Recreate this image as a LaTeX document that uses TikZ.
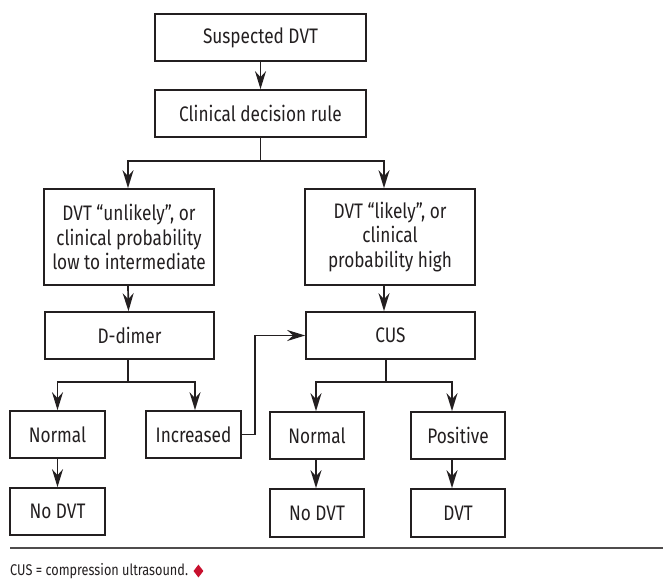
\documentclass[tikz,border=0pt]{standalone}
\usepackage{fontspec}
\setmainfont{Fira Sans}
\newfontfamily\narrow[FakeStretch=0.82]{Fira Sans}
\usetikzlibrary{arrows.meta,positioning,shapes.geometric}
\definecolor{ink}{RGB}{35,31,32}
\definecolor{dred}{RGB}{200,16,46}
\begin{document}
\begin{tikzpicture}[x=1pt,y=-1pt,
        box/.style={draw=ink,line width=1.7pt,text=ink,align=center,inner sep=2pt,
            minimum height=47pt,font=\narrow\fontsize{21}{24.5}\selectfont},
        arr/.style={draw=ink,line width=1.7pt,-{Stealth[length=18pt,width=11pt,inset=6pt]}},
        wire/.style={draw=ink,line width=1.7pt}]
    \useasboundingbox (0,0) rectangle (663,588);
    \node[box,minimum width=211pt] (susp) at (260.5,37.5) {Suspected DVT};
    \node[box,minimum width=211pt] (rule) at (260.5,113.5) {Clinical decision rule};
    \node[box,minimum width=170pt,minimum height=96pt] (unlik) at (129,237)
        {DVT “unlikely”, or\\clinical probability\\low to intermediate};
    \node[box,minimum width=170pt,minimum height=96pt] (lik) at (390,237)
        {DVT “likely”, or\\clinical\\probability high};
    \node[box,minimum width=169pt] (ddim) at (129.5,335.5) {D-dimer};
    \node[box,minimum width=169pt] (cus) at (390.5,335.5) {CUS};
    \node[box,minimum width=95pt] (norm1) at (57.5,434.5) {Normal};
    \node[box,minimum width=95pt] (incr) at (193.5,434.5) {Increased};
    \node[box,minimum width=95pt] (nodvt1) at (57.5,511.5) {No DVT};
    \node[box,minimum width=94pt] (norm2) at (317,435.5) {Normal};
    \node[box,minimum width=94pt] (pos) at (458,435.5) {Positive};
    \node[box,minimum width=94pt,minimum height=48pt] (nodvt2) at (317,513) {No DVT};
    \node[box,minimum width=94pt,minimum height=48pt] (dvt) at (458,513) {DVT};

    \draw[arr] (susp) -- (rule);
    \draw[wire] (rule.south) -- ++(0,23) coordinate (fork1);
    \draw[arr] (fork1) -| ([xshift=-1pt]unlik.north);
    \draw[arr] (fork1) -| ([xshift=-6pt]lik.north);
    \draw[arr] ([xshift=-1pt]unlik.south) -- ([xshift=-1pt]ddim.north);
    \draw[arr] ([xshift=-6pt]lik.south) -- ([xshift=-6.5pt]cus.north);
    \draw[wire] ([xshift=-1.5pt]ddim.south) -- ++(0,22) coordinate (fork2);
    \draw[arr] (fork2) -| (norm1.north);
    \draw[arr] (fork2) -| ([xshift=1.5pt]incr.north);
    \draw[wire] ([xshift=-4.5pt]cus.south) -- ++(0,22) coordinate (fork3);
    \draw[arr] (fork3) -| ([xshift=-1pt]norm2.north);
    \draw[arr] (fork3) -| ([xshift=-6pt]pos.north);
    \draw[arr] (incr.east) -- ++(13,0) |- (cus.west);
    \draw[arr] (norm1) -- (nodvt1);
    \draw[arr] ([xshift=-1pt]norm2.south) -- ([xshift=-1pt]nodvt2.north);
    \draw[arr] ([xshift=-6pt]pos.south) -- ([xshift=-6pt]dvt.north);

    \draw[ink!80,line width=1.4pt] (10,548) -- (663,548);
    \node[anchor=west,inner sep=0pt,text=ink,font=\narrow\fontsize{15.5}{18}\selectfont] (fnote) at (10,571)
        {CUS = compression ultrasound.};
    \node[diamond,fill=dred,inner sep=0pt,minimum width=10pt,minimum height=13pt,
        right=5pt of fnote] (mark) {};
\end{tikzpicture}
\end{document}
